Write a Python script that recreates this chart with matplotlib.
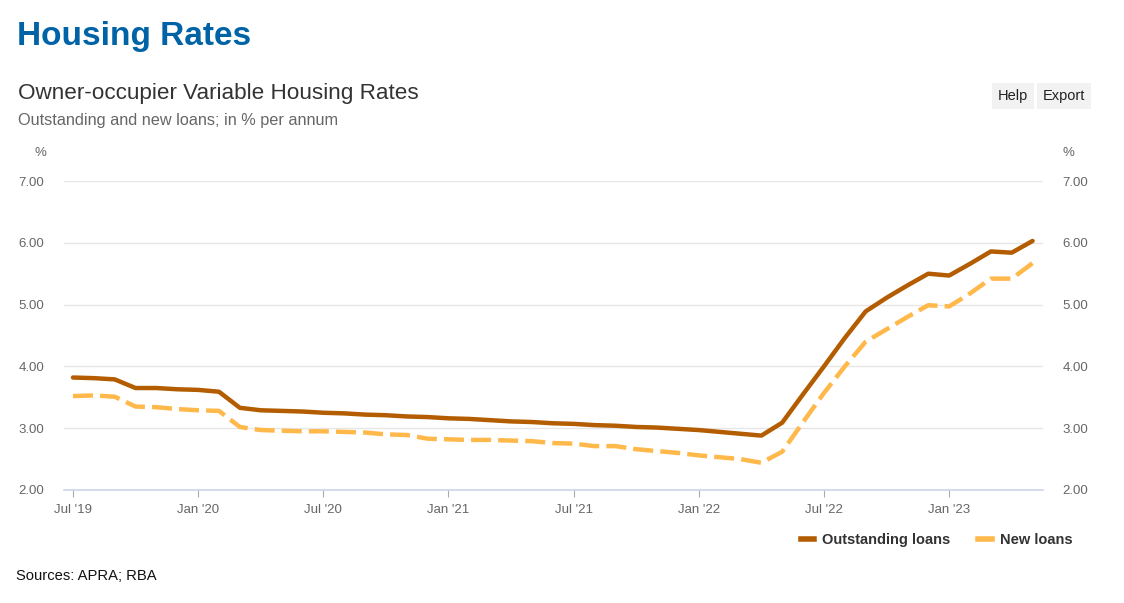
import matplotlib
matplotlib.use("Agg")
import matplotlib.pyplot as plt
from matplotlib.lines import Line2D

plt.rcParams['font.family'] = ['Liberation Sans', 'DejaVu Sans']

## Data: monthly, Jul 2019 to May 2023
outstanding = [3.82, 3.81, 3.79, 3.65, 3.65, 3.63,
               3.62, 3.59, 3.33, 3.29, 3.28, 3.27, 3.25, 3.24, 3.22, 3.21, 3.19, 3.18,
               3.16, 3.15, 3.13, 3.11, 3.10, 3.08, 3.07, 3.05, 3.04, 3.02, 3.01, 2.99,
               2.97, 2.94, 2.91, 2.88, 3.09, 3.55, 4.00, 4.46, 4.89, 5.11, 5.31, 5.50,
               5.47, 5.66, 5.86, 5.84, 6.03]
new_loans = [3.52, 3.53, 3.51, 3.35, 3.34, 3.31,
             3.29, 3.28, 3.02, 2.97, 2.96, 2.95, 2.95, 2.94, 2.93, 2.90, 2.89, 2.83,
             2.82, 2.81, 2.81, 2.80, 2.79, 2.76, 2.75, 2.71, 2.71, 2.66, 2.63, 2.60,
             2.56, 2.53, 2.50, 2.44, 2.62, 3.10, 3.57, 4.00, 4.40, 4.60, 4.80, 4.99,
             4.97, 5.18, 5.42, 5.42, 5.67]
tick_labels = ["Jul '19", "Jan '20", "Jul '20", "Jan '21", "Jul '21", "Jan '22", "Jul '22", "Jan '23"]
y_ticks = [2, 3, 4, 5, 6, 7]

c_out = '#b35c00'
c_new = '#ffb84a'
grey = '#666666'

fig = plt.figure(figsize=(11.24, 6.03), dpi=100)
ax = fig.add_axes([64/1124, 1-490/603, (1043-64)/1124, (490-181)/603])

months = list(range(len(outstanding)))
ax.plot(months, outstanding, color=c_out, lw=3.2, solid_capstyle='round', solid_joinstyle='round', zorder=3)
ax.plot(months, new_loans, color=c_new, lw=3.2, dashes=(4.5, 1.6), zorder=3)

ax.set_xlim(-0.43, 46.5)
ax.set_ylim(2, 7)
ax.set_yticks(y_ticks)
ax.set_yticklabels([f"{v:.2f}" for v in y_ticks])
ax.grid(axis='y', color='#e6e6e6', lw=1)
ax.set_axisbelow(True)
ax.set_xticks(range(0, 43, 6))
ax.set_xticklabels(tick_labels)

for s in ['top', 'left', 'right']:
    ax.spines[s].set_visible(False)
ax.spines['bottom'].set_color('#ccd6eb')
ax.spines['bottom'].set_linewidth(1.2)

ax.tick_params(axis='x', length=5, color='#aaaaaa', labelcolor=grey, labelsize=9.5, pad=5)
ax.tick_params(axis='y', length=0, labelcolor=grey, labelsize=9.5, pad=14,
               labelleft=True, labelright=True)

# titles
fig.text(17/1124, 1-37/603, "Housing Rates", fontsize=24, fontweight='bold', color='#0063a6', va='center')
fig.text(18/1124, 1-93/603, "Owner-occupier Variable Housing Rates", fontsize=16.2, color='#333333', va='center')
fig.text(18/1124, 1-120/603, "Outstanding and new loans; in % per annum", fontsize=11.7, color=grey, va='center')
fig.text(40/1124, 1-153/603, "%", fontsize=9.5, color=grey, ha='center', va='center')
fig.text(1068/1124, 1-153/603, "%", fontsize=9.5, color=grey, ha='center', va='center')

# buttons
btn = dict(boxstyle='square,pad=0.4', fc='#f2f2f2', ec='none')
fig.text(1013/1124, 1-96/603, "Help", fontsize=10.5, color='#222222', ha='center', va='center', bbox=btn)
fig.text(1064/1124, 1-96/603, "Export", fontsize=10.5, color='#222222', ha='center', va='center', bbox=btn)

# legend
handles = [Line2D([], [], color=c_out, lw=4), Line2D([], [], color=c_new, lw=4)]
fig.legend(handles, ["Outstanding loans", "New loans"], loc='center right',
           bbox_to_anchor=(1086/1124, 1-540/603), ncol=2, frameon=False,
           handlelength=0.9, handletextpad=0.6, columnspacing=1.9,
           prop={'weight': 'bold', 'size': 10.5}, labelcolor='#333333')

fig.text(16/1124, 1-576/603, "Sources: APRA; RBA", fontsize=10.6, color='#111111', va='center')

fig.savefig('out.png', dpi=100)
